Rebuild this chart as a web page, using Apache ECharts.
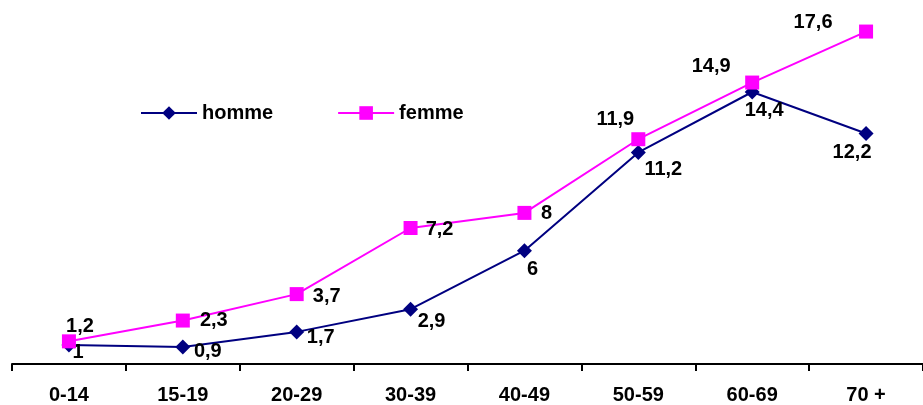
<!DOCTYPE html>
<html>
<head>
<meta charset="utf-8">
<script src="https://cdn.jsdelivr.net/npm/echarts@6/dist/echarts.min.js"></script>
<style>
  html, body { margin: 0; padding: 0; background: #fff; }
  #chart { width: 923px; height: 405px; }
</style>
</head>
<body>
<div id="chart"></div>
<script>
// Age groups and rates per sex
const categories = ['0-14', '15-19', '20-29', '30-39', '40-49', '50-59', '60-69', '70 +'];
const homme = [1, 0.9, 1.7, 2.9, 6, 11.2, 14.4, 12.2];
const femme = [1.2, 2.3, 3.7, 7.2, 8, 11.9, 14.9, 17.6];

// Shift of each value label's centre away from its marker, in pixels
const hommeLabelShift = [[9, 7], [25, 4], [24, 6], [21, 12], [8, 19], [25, 17], [12, 18], [-14, 19]];
const femmeLabelShift = [[11, -15], [31, 0], [30, 2], [29, 1], [22, 1], [-23, -20], [-41, -16], [-53, -9]];

const fmt = v => String(v).replace('.', ',');
const labelFont = { fontFamily: 'Liberation Sans, Arial, sans-serif', fontWeight: 'bold', fontSize: 20, color: '#000' };

function buildData(values, shift) {
  return values.map((v, i) => ({
    value: v,
    label: Object.assign({
      show: true, position: 'inside', align: 'center', verticalAlign: 'middle',
      offset: shift[i], formatter: fmt(v)
    }, labelFont)
  }));
}

const chart = echarts.init(document.getElementById('chart'), null, { renderer: 'canvas' });
chart.setOption({
  animation: false,
  backgroundColor: '#fff',
  grid: { left: 12, width: 921, top: 24, bottom: 41, containLabel: false },
  legend: {
    left: 135, top: 98,
    itemWidth: 56, itemHeight: 17, itemGap: 64,
    textStyle: Object.assign({}, labelFont),
    data: ['homme', 'femme']
  },
  xAxis: {
    type: 'category',
    data: categories,
    boundaryGap: true,
    axisLine: { lineStyle: { color: '#000', width: 2 } },
    axisTick: { show: true, length: 7, lineStyle: { color: '#000', width: 2 } },
    axisLabel: Object.assign({ margin: 21 }, labelFont),
    splitLine: { show: false }
  },
  yAxis: {
    type: 'value', min: 0, max: 18,
    show: false,
    splitLine: { show: false }
  },
  series: [
    {
      name: 'homme', type: 'line',
      data: buildData(homme, hommeLabelShift),
      symbol: 'diamond', symbolSize: 15,
      itemStyle: { color: '#000080' },
      lineStyle: { color: '#000080', width: 2 },
      z: 3
    },
    {
      name: 'femme', type: 'line',
      data: buildData(femme, femmeLabelShift),
      symbol: 'rect', symbolSize: 14,
      itemStyle: { color: '#ff00ff' },
      lineStyle: { color: '#ff00ff', width: 2 },
      z: 4
    }
  ]
});
</script>
</body>
</html>
